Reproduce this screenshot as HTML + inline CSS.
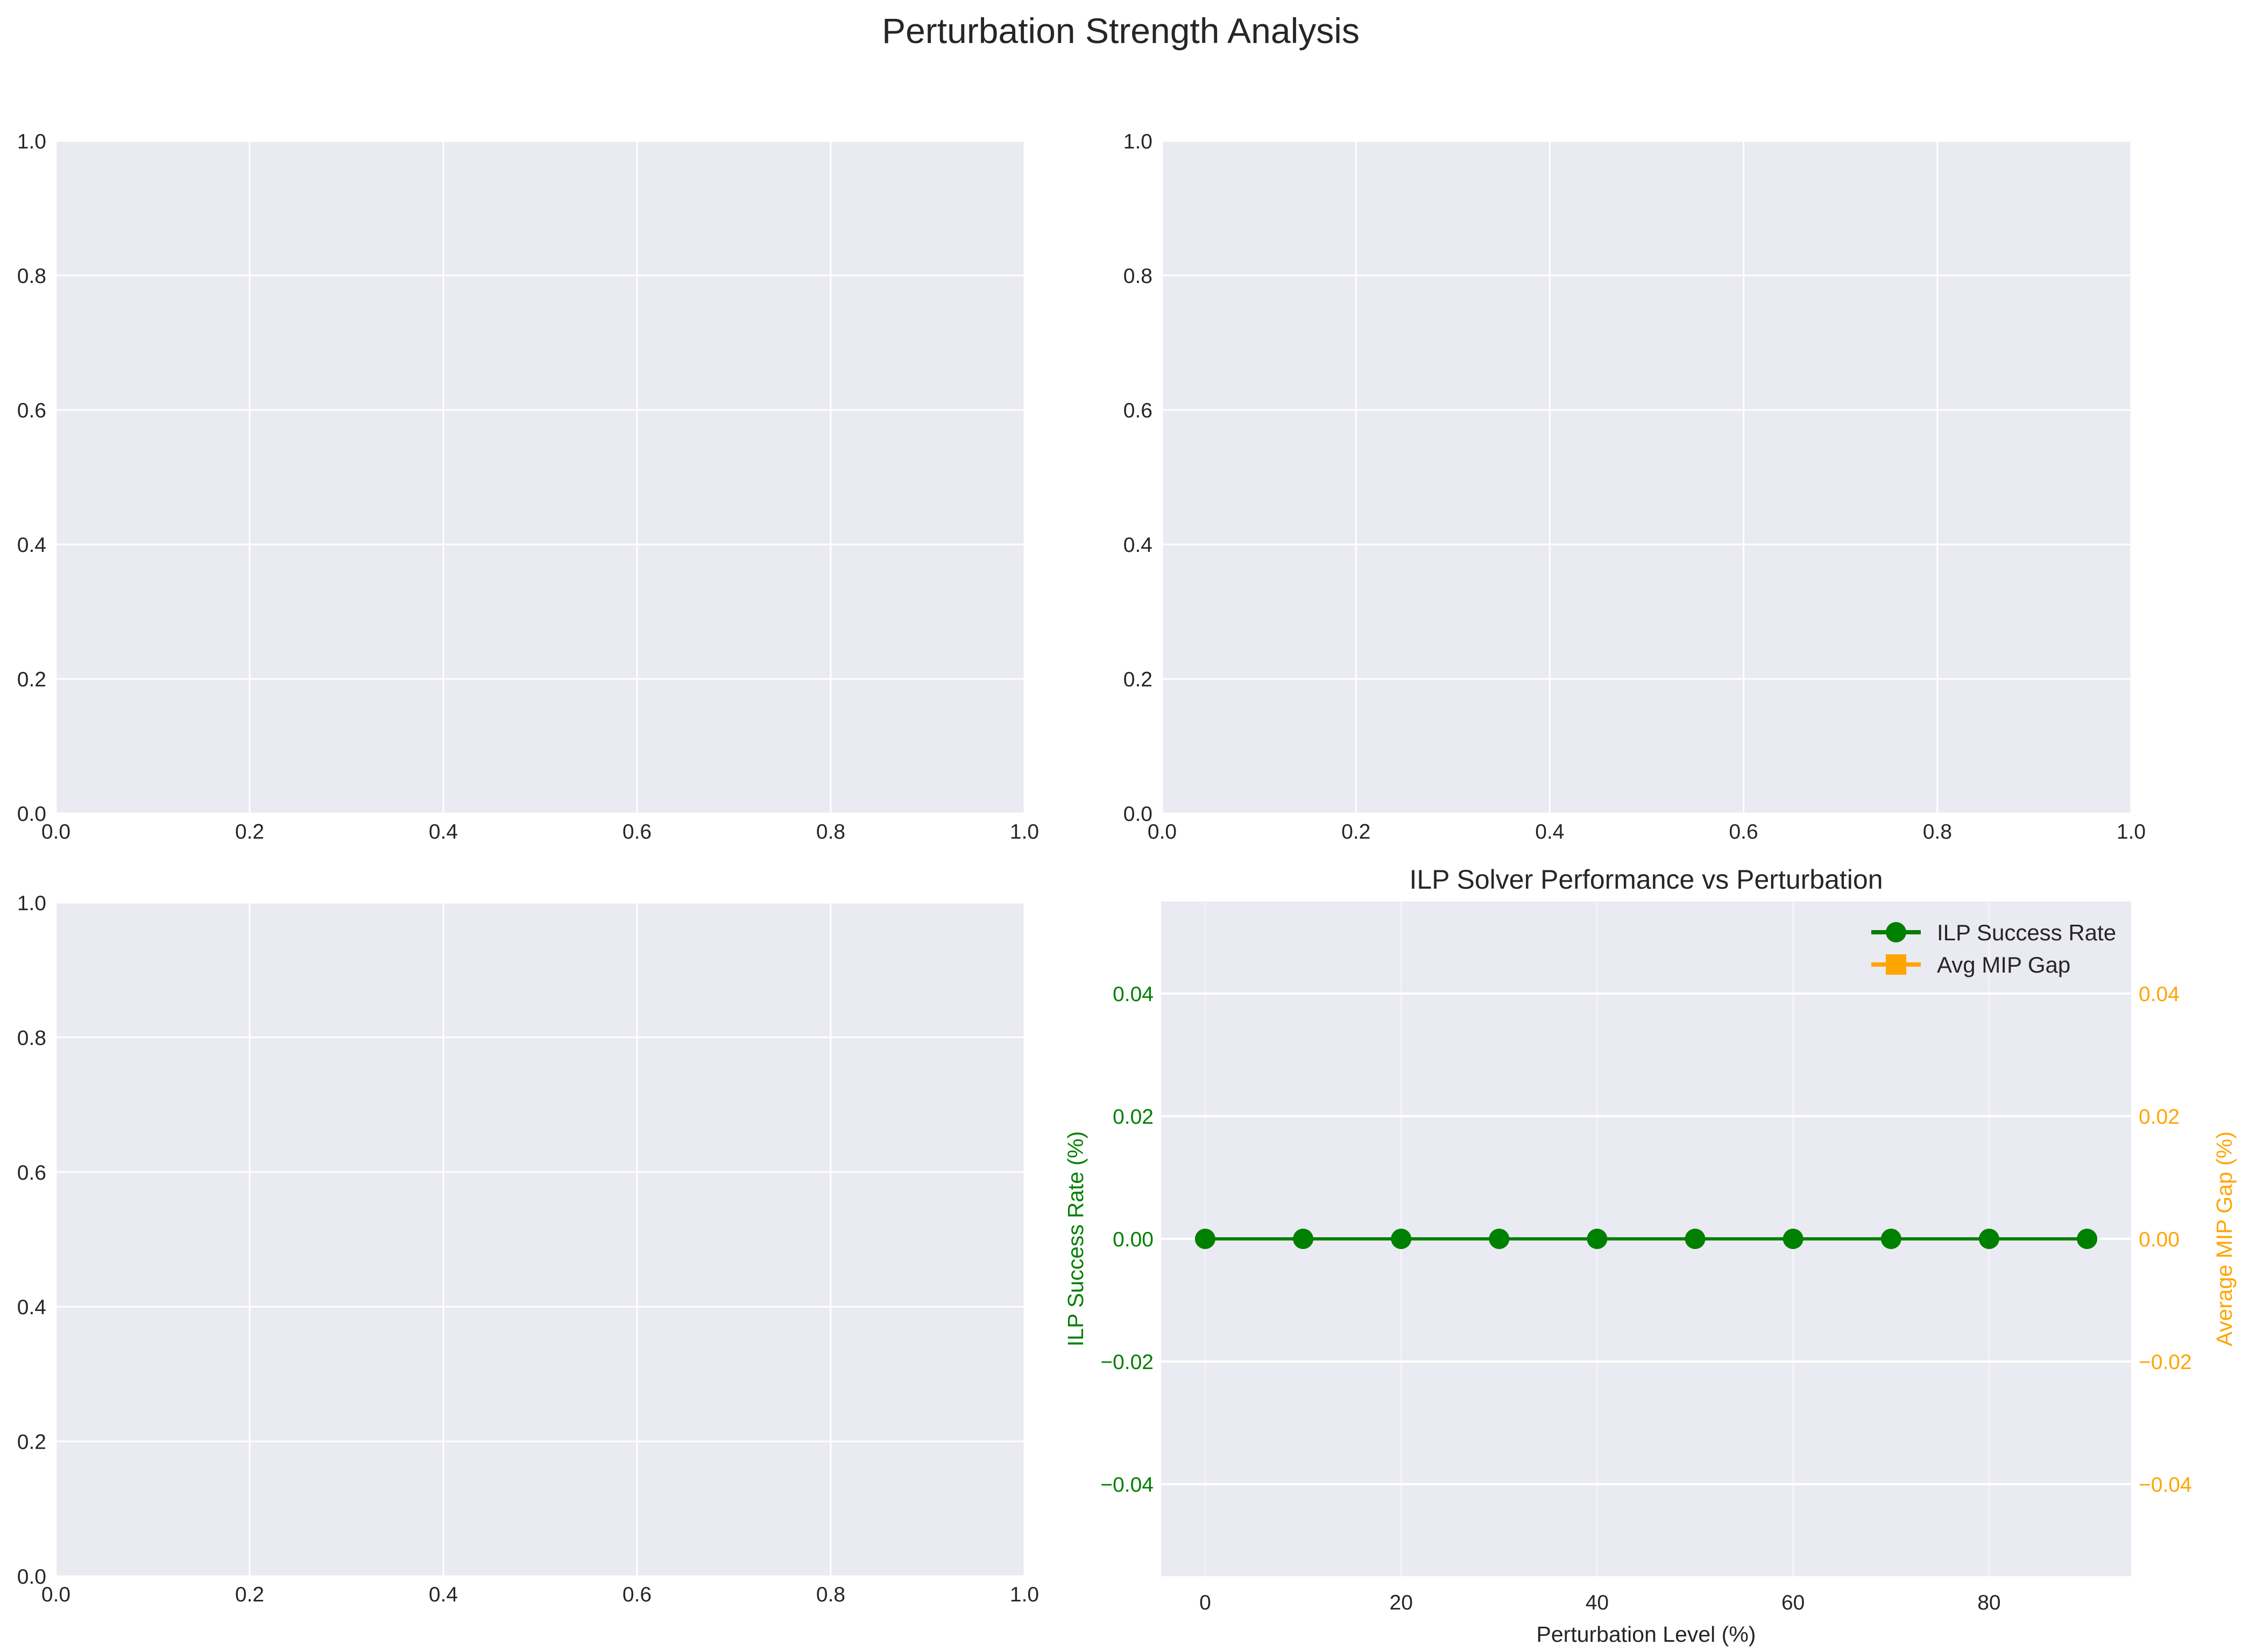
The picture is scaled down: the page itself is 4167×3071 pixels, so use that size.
<!DOCTYPE html>
<html><head><meta charset="utf-8"><style>
html,body{margin:0;padding:0;background:#fff}
svg{display:block;font-family:"Liberation Sans",sans-serif}
</style></head><body>
<svg id="fig" width="4167" height="3071" viewBox="0 0 4167 3071" xmlns="http://www.w3.org/2000/svg">
<text x="2083" y="80" font-size="66" text-anchor="middle" fill="#262626">Perturbation Strength Analysis</text>
<g id="g"></g>
</svg>
<script>
const emptyTicks = [0, 0.2, 0.4, 0.6, 0.8, 1.0];
const emptyTickLabels = ["0.0", "0.2", "0.4", "0.6", "0.8", "1.0"];
const perturbLevels = [0, 10, 20, 30, 40, 50, 60, 70, 80, 90];
const ilpSuccess = [0, 0, 0, 0, 0, 0, 0, 0, 0, 0];
const xTicks = [0, 20, 40, 60, 80];
const yTicks = [-0.04, -0.02, 0, 0.02, 0.04];
const yTickLabels = ["\u22120.04", "\u22120.02", "0.00", "0.02", "0.04"];

const NS = "http://www.w3.org/2000/svg";
const G = document.getElementById('g');
function mk(tag, attrs, parent, text) {
  const e = document.createElementNS(NS, tag);
  for (const k in attrs) e.setAttribute(k, attrs[k]);
  if (text !== undefined) e.textContent = text;
  (parent || G).appendChild(e);
  return e;
}

function emptyPanel(x0, y0, x1, y1, name) {
  const g = mk('g', {});
  
  
  const bg = mk('rect', {x: x0, y: y0, width: x1 - x0, height: y1 - y0, fill: '#EAEAF2'}, g);
  
  
  const sx = v => x0 + v * (x1 - x0);
  const sy = v => y1 - v * (y1 - y0);
  emptyTicks.forEach((t, i) => {
    const vl = mk('line', {x1: sx(t), x2: sx(t), y1: y0, y2: y1, stroke: '#fff', 'stroke-width': 3}, g);
    
    
    const hl = mk('line', {x1: x0, x2: x1, y1: sy(t), y2: sy(t), stroke: '#fff', 'stroke-width': 3}, g);
    
    
    const xt = mk('text', {x: sx(t), y: y1 + 47, 'font-size': 39, 'text-anchor': 'middle', fill: '#262626'}, g, emptyTickLabels[i]);
    
    
    const yt = mk('text', {x: x0 - 18, y: sy(t) + 14, 'font-size': 39, 'text-anchor': 'end', fill: '#262626'}, g, emptyTickLabels[i]);
    
    
  });
}
emptyPanel(104, 262, 1904, 1512, 'top-left-panel');
emptyPanel(2160, 262, 3961, 1512, 'top-right-panel');
emptyPanel(104, 1678, 1904, 2930, 'bottom-left-panel');

// bottom-right panel
const X0 = 2158, X1 = 3961, Y0 = 1676, Y1 = 2930;
const xmin = -4.5, xmax = 94.5, ymin = -0.055, ymax = 0.055;
const sx = v => X0 + (v - xmin) / (xmax - xmin) * (X1 - X0);
const sy = v => Y1 - (v - ymin) / (ymax - ymin) * (Y1 - Y0);
const p = mk('g', {});


const bg = mk('rect', {x: X0, y: Y0, width: X1 - X0, height: Y1 - Y0, fill: '#EAEAF2'}, p);


xTicks.forEach(t => {
  const l = mk('line', {x1: sx(t), x2: sx(t), y1: Y0, y2: Y1, stroke: '#fff', 'stroke-opacity': 0.45, 'stroke-width': 3}, p);
  
  
  const tx = mk('text', {x: sx(t), y: Y1 + 62, 'font-size': 39, 'text-anchor': 'middle', fill: '#262626'}, p, String(t));
  
  
});
yTicks.forEach((t, i) => {
  const l = mk('line', {x1: X0, x2: X1, y1: sy(t), y2: sy(t), stroke: '#fff', 'stroke-width': 4}, p);
  
  
  const tl = mk('text', {x: X0 - 14, y: sy(t) + 14, 'font-size': 39, 'text-anchor': 'end', fill: 'green'}, p, yTickLabels[i]);
  
  
  const tr = mk('text', {x: X1 + 14, y: sy(t) + 14, 'font-size': 39, 'text-anchor': 'start', fill: 'orange'}, p, yTickLabels[i]);
  
  
});
const pts = perturbLevels.map((x, i) => sx(x) + ',' + sy(ilpSuccess[i])).join(' ');
const line = mk('polyline', {points: pts, fill: 'none', stroke: 'green', 'stroke-width': 6}, p);


perturbLevels.forEach((x, i) => {
  const c = mk('circle', {cx: sx(x), cy: sy(ilpSuccess[i]), r: 19, fill: 'green'}, p);
  
  
});
const title = mk('text', {x: (X0 + X1) / 2, y: 1652, 'font-size': 50, 'text-anchor': 'middle', fill: '#262626'}, p, 'ILP Solver Performance vs Perturbation');


const xl = mk('text', {x: (X0 + X1) / 2, y: 3052, 'font-size': 41, 'text-anchor': 'middle', fill: '#262626'}, p, 'Perturbation Level (%)');


const yl = mk('text', {x: 0, y: 0, 'font-size': 41, 'text-anchor': 'middle', fill: 'green', transform: 'translate(2013,2303) rotate(-90)'}, p, 'ILP Success Rate (%)');


const yr = mk('text', {x: 0, y: 0, 'font-size': 41, 'text-anchor': 'middle', fill: 'orange', transform: 'translate(4148,2303) rotate(-90)'}, p, 'Average MIP Gap (%)');



// legend
const lg = mk('g', {}, p);


const e1 = mk('g', {}, lg);


mk('line', {x1: 3478, x2: 3570, y1: 1733, y2: 1733, stroke: 'green', 'stroke-width': 8}, e1);
mk('circle', {cx: 3524, cy: 1733, r: 19, fill: 'green'}, e1);
mk('text', {x: 3600, y: 1748, 'font-size': 42, fill: '#262626'}, e1, 'ILP Success Rate');
const e2 = mk('g', {}, lg);


mk('line', {x1: 3478, x2: 3570, y1: 1793, y2: 1793, stroke: 'orange', 'stroke-width': 8}, e2);
mk('rect', {x: 3505, y: 1774, width: 38, height: 38, fill: 'orange'}, e2);
mk('text', {x: 3600, y: 1808, 'font-size': 42, fill: '#262626'}, e2, 'Avg MIP Gap');
</script>
</body></html>
